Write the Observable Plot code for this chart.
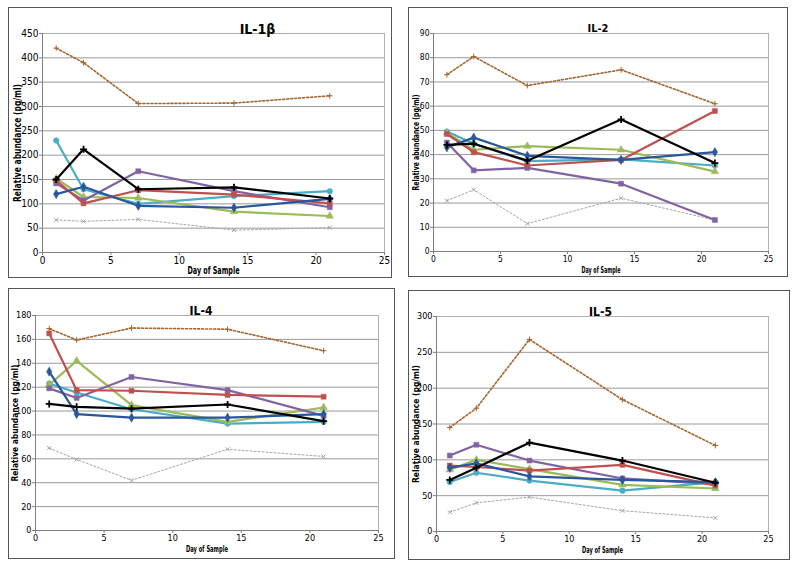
<!DOCTYPE html>
<html><head><meta charset="utf-8">
<script src="https://cdn.jsdelivr.net/npm/d3@7"></script>
<script src="https://cdn.jsdelivr.net/npm/@observablehq/plot@0.6"></script>
<style>
body{margin:0;background:#fff;font-family:"Liberation Sans Narrow","DejaVu Sans Condensed","Liberation Sans",Arial,sans-serif;}
#wrap{position:relative;width:800px;height:567px;overflow:hidden;background:#fff;}
.box{position:absolute;border:1.5px solid #555;box-sizing:border-box;}
.pl{position:absolute;font-stretch:condensed;}
</style></head><body><div id="wrap"></div>
<script>
const days = [1, 3, 7, 14, 21];
const seriesNames = ["blue", "red", "green", "purple", "aqua", "black", "brown", "gray"];
const xTicks = [0, 5, 10, 15, 20, 25];

// values per series, order as seriesNames
const IL1B = [
  [120, 135, 96, 92, 110],
  [148, 101, 128, 119, 101],
  [152, 114, 112, 84, 75],
  [142, 107, 167, 126, 93],
  [230, 130, 100, 116, 126],
  [150, 212, 130, 134, 111],
  [420, 390, 306, 307, 322],
  [67, 64, 68, 46, 51]
];
const IL2 = [
  [43, 47, 39.5, 37.8, 41],
  [48.5, 41, 35.5, 37.8, 58],
  [49, 42, 43.5, 42, 33],
  [45, 33.5, 34.5, 28, 13],
  [49.5, 44.5, 37.3, 38, 35.5],
  [44, 44.5, 37.5, 54.5, 36.5],
  [73, 80.5, 68.5, 75, 61],
  [21, 25.5, 11.5, 22, 13]
];
const IL4 = [
  [133, 97.5, 94.5, 94.5, 97.5],
  [165, 117.5, 117, 113.5, 112],
  [122, 142, 105, 91, 103],
  [119, 111, 128.5, 117.5, 96],
  [123, 115.5, 101.5, 89.5, 91],
  [106, 103.5, 102, 105.5, 91.5],
  [169, 159.5, 169.5, 168.5, 150.5],
  [69, 59.5, 42, 68, 62]
];
const IL5 = [
  [89, 95, 77, 72, 69],
  [92, 90, 85, 93, 64],
  [86, 100, 87, 65, 60],
  [106, 121, 99, 74, 66],
  [69, 82, 71, 57, 69],
  [72, 89, 124, 99, 68],
  [145, 172, 268, 184, 120],
  [27, 40, 48, 29, 19]
];

const colors = {blue:"#28579B", red:"#C0504D", green:"#9BBB59", purple:"#8064A2", aqua:"#4BACC6", black:"#000000", brown:"#A5652E", gray:"#A6A6A6"};
const symbols = {blue:"diamond", red:"square", green:"triangle", purple:"square", aqua:"circle", black:"plus", brown:"plus", gray:"times"};
const drawOrder = ["gray","brown","aqua","green","purple","red","blue","black"];

function rows(vals) {
  const out = [];
  seriesNames.forEach((s, i) => vals[i].forEach((v, j) => out.push({s, day: days[j], v})));
  return out;
}

const panels = [
  {title:"IL-1β", vals:IL1B, yMax:450, yStep:50, left:0, top:0, w:400, h:285, m:[33,16,33,42], fs:10, lfs:10, tfs:14, titleDx:44, ylab:25, yLen:118, xLen:52},
  {title:"IL-2", vals:IL2, yMax:90, yStep:10, left:400, top:0, w:400, h:285, m:[33,32,34,33], fs:8.5, lfs:8.5, tfs:11, titleDx:-3, ylab:17, yLen:96, xLen:39},
  {title:"IL-4", vals:IL4, yMax:180, yStep:20, left:0, top:285, w:400, h:282, m:[30,22,37,35], fs:9, lfs:9.5, tfs:12, titleDx:-6, ylab:21, yLen:117, xLen:42},
  {title:"IL-5", vals:IL5, yMax:300, yStep:50, left:400, top:285, w:400, h:282, m:[31,32,36,36], fs:9, lfs:9.5, tfs:12, titleDx:-2, ylab:21, yLen:118, xLen:41}
];
const boxes = [[8,7,384,271],[408,7,380,270],[8,288,387,271],[408,290,382,270]];

const wrap = document.getElementById("wrap");
boxes.forEach(b => {
  const d = document.createElement("div");
  d.className = "box";
  Object.assign(d.style, {left:b[0]+"px", top:b[1]+"px", width:b[2]+"px", height:b[3]+"px"});
  wrap.appendChild(d);
});

const X_LABEL = "Day of Sample";
const Y_LABEL = "Relative abundance (pg/ml)";

panels.forEach(p => {
  const data = rows(p.vals);
  const yTicks = d3.range(0, p.yMax + 0.001, p.yStep);
  const marks = [
    Plot.ruleY(yTicks.slice(1), {stroke:"#9a9a9a", strokeWidth:1}),
    Plot.frame({stroke:"#b0b0b0"}),
    Plot.ruleY([0], {stroke:"#7f7f7f"}),
    Plot.ruleX([0], {stroke:"#7f7f7f"}),
    Plot.axisX({ticks:xTicks, tickSize:3, tickPadding:1, label:null, fontSize:p.fs, stroke:"#7f7f7f"}),
    Plot.axisY({ticks:yTicks, tickSize:3, tickPadding:1, label:null, fontSize:p.fs, stroke:"#7f7f7f"})
  ];
  drawOrder.forEach(s => {
    const sd = data.filter(d => d.s === s);
    const dotted = s === "brown" || s === "gray";
    marks.push(Plot.line(sd, {x:"day", y:"v", stroke:colors[s], strokeWidth: s === "gray" ? 1 : (dotted ? 1.6 : 2.2), strokeDasharray: dotted ? "2,2" : null}));
    const filled = ["diamond","square","triangle","circle"].includes(symbols[s]);
    marks.push(Plot.dot(sd, {x:"day", y:"v", symbol:()=>symbols[s], r: filled ? 2.8 : (s === "black" ? 2.4 : 2),
      fill: filled ? colors[s] : "none", stroke: colors[s], strokeWidth: filled ? 0.5 : (s === "black" ? 1.8 : 1)}));
  });
  marks.push(Plot.text([p.title], {frameAnchor:"top", dy:-9, dx:p.titleDx, fontSize:p.tfs, fontWeight:"bold", fill:"#000"}));
  marks.push(Plot.text([X_LABEL], {frameAnchor:"bottom", dy:21, fontSize:p.lfs, fontWeight:"bold", fill:"#000"}));
  marks.push(Plot.text([Y_LABEL], {frameAnchor:"left", textAnchor:"middle", dx:-p.ylab, rotate:-90, fontSize:p.lfs, fontWeight:"bold", fill:"#000"}));
  const svg = Plot.plot({
    width:p.w, height:p.h,
    marginTop:p.m[0], marginRight:p.m[1], marginBottom:p.m[2], marginLeft:p.m[3],
    style:{fontFamily:'"Liberation Sans Narrow","DejaVu Sans Condensed","Liberation Sans",Arial,sans-serif', background:"transparent", color:"#000"},
    x:{domain:[0,25]},
    y:{domain:[0,p.yMax]},
    symbol:{type:"identity"},
    marks
  });
  svg.querySelectorAll("text").forEach(t => {
    if (t.textContent === X_LABEL) { t.setAttribute("textLength", p.xLen); t.setAttribute("lengthAdjust", "spacingAndGlyphs"); }
    if (t.textContent === Y_LABEL) { t.setAttribute("textLength", p.yLen); t.setAttribute("lengthAdjust", "spacingAndGlyphs"); }
  });
  svg.classList.add("pl");
  svg.style.left = p.left + "px";
  svg.style.top = p.top + "px";
  wrap.appendChild(svg);
});
</script></body></html>
